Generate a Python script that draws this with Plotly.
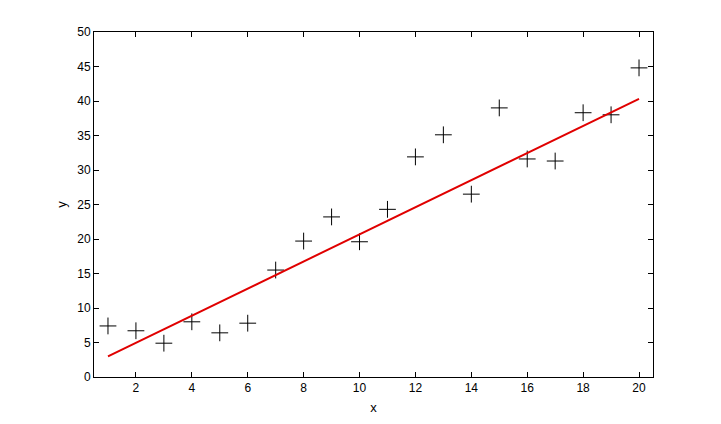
import plotly.graph_objects as go

x_vals = list(range(1, 21))
y_vals = [7.4, 6.7, 4.9, 8.0, 6.4, 7.8, 15.5, 19.7, 23.2, 19.6,
          24.3, 31.9, 35.1, 26.5, 39.0, 31.6, 31.3, 38.3, 38.0, 44.8]
fit_x = [1, 20]
fit_y = [3.0, 40.3]

x_ticks = [2, 4, 6, 8, 10, 12, 14, 16, 18, 20]
y_ticks = [0, 5, 10, 15, 20, 25, 30, 35, 40, 45, 50]

fig = go.Figure()
fig.add_trace(go.Scatter(
    x=x_vals, y=y_vals, mode="markers",
    marker=dict(symbol="cross-thin", size=12, line=dict(color="black", width=1), color="black"),
    showlegend=False, hoverinfo="skip"))
fig.add_trace(go.Scatter(
    x=fit_x, y=fit_y, mode="lines",
    line=dict(color="#e00000", width=2),
    showlegend=False, hoverinfo="skip"))

axis_common = dict(
    showline=True, linecolor="black", linewidth=1, mirror="ticks",
    ticks="inside", ticklen=5, tickwidth=1, tickcolor="black",
    showgrid=False, zeroline=False,
    tickfont=dict(family="Liberation Sans, Arial", size=12, color="black"),
)

fig.update_layout(
    width=713, height=416,
    margin=dict(l=86, r=68, t=24, b=47),
    paper_bgcolor="white", plot_bgcolor="white",
    xaxis=dict(range=[0.5, 20.5], tickvals=x_ticks, ticktext=[str(t) for t in x_ticks],
               title=dict(text="x", font=dict(family="Liberation Sans, Arial", size=13, color="black"), standoff=8),
               **axis_common),
    yaxis=dict(range=[0, 50], tickvals=y_ticks, ticktext=[str(t) for t in y_ticks],
               title=dict(text="y", font=dict(family="Liberation Sans, Arial", size=13, color="black"), standoff=7),
               **axis_common),
)

fig.write_html("out.html")
